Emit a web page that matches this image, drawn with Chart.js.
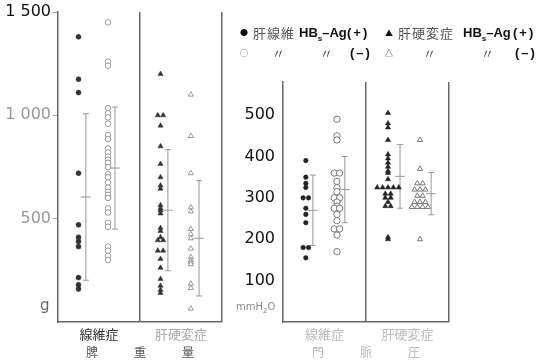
<!DOCTYPE html>
<html lang="ja">
<head>
<meta charset="utf-8">
<script src="https://cdn.jsdelivr.net/npm/chart.js@4/dist/chart.umd.min.js"></script>
<style>
  body { margin: 0; background: #fff; }
  #wrap { position: relative; width: 537px; height: 361px; overflow: hidden; font-family: "Noto Sans CJK JP", sans-serif; }
  canvas { position: absolute; top: 0; }
  .t { position: absolute; white-space: nowrap; line-height: 1; font-size: 13px; color: #555; }
  .b { font-family: "Liberation Sans", Arial, sans-serif; font-weight: bold; color: #111; }
  .b sub { font-size: 8px; }
</style>
</head>
<body>
<div id="wrap">
  <canvas id="spleen" width="230" height="361" style="left:0"></canvas>
  <canvas id="pressure" width="307" height="361" style="left:230px"></canvas>

  <span class="t" style="left:240px;top:29px;font-size:8px;color:#111">●</span>
  <span class="t" style="left:253px;top:26px;letter-spacing:1px">肝線維</span>
  <span class="t b" style="left:299px;top:26px">HB<sub>s</sub>–Ag</span>
  <span class="t b" style="left:347px;top:26px;letter-spacing:2px">(+)</span>
  <span class="t" style="left:385px;top:29px;font-size:8px;color:#111">▲</span>
  <span class="t" style="left:398px;top:26px;letter-spacing:1px">肝硬変症</span>
  <span class="t b" style="left:463px;top:26px">HB<sub>s</sub>–Ag</span>
  <span class="t b" style="left:513px;top:26px;letter-spacing:2px">(+)</span>

  <span class="t" style="left:240px;top:49px;font-size:8px;color:#333">○</span>
  <span class="t" style="left:272px;top:46px">〃</span>
  <span class="t" style="left:320px;top:46px">〃</span>
  <span class="t b" style="left:350px;top:46px;letter-spacing:2px">(–)</span>
  <span class="t" style="left:385px;top:49px;font-size:8px;color:#333">△</span>
  <span class="t" style="left:423px;top:46px">〃</span>
  <span class="t" style="left:481px;top:46px">〃</span>
  <span class="t b" style="left:515px;top:46px;letter-spacing:2px">(–)</span>

  <span class="t" style="left:40px;top:298px;font-size:15px;color:#666;font-family:'DejaVu Sans'">g</span>
  <span class="t" style="left:236px;top:302px;font-size:10px;color:#888;font-family:'DejaVu Sans'">mmH<sub style="font-size:7px">2</sub>O</span>
</div>
<script>
const groups = ['線維症', '肝硬変症'];

// 脾重量 (g)
const spleenFibPos = [1380, 1175, 1110, 720, 470, 410, 390, 365, 215, 180, 160];
const spleenFibNeg = [1450, 1260, 1240, 1035, 1010, 990, 960, 905, 885, 840, 820, 800, 785, 770, 750,
                      715, 700, 675, 650, 630, 615, 600, 550, 530, 480, 460, 365, 345, 320, 300];
const spleenCirPos = [1200, 1000, 1000, 950, 850, 765, 700, 660, 645, 565, 550, 540, 525, 455, 440,
                      410, 395, 395, 345, 345, 305, 262, 208, 175, 155, 140];
const spleenCirNeg = [1100, 900, 720, 555, 535, 450, 425, 405, 355, 315, 300, 290, 280, 185, 165, 65];
const spleenMean = [605, 745, 541, 405];
const spleenSD = [403, 295, 293, 279];
const spleenTicks = [500, 1000, 1500];

// 門脈圧 (mmH2O)
const pressFibPos = [390, 350, 335, 325, 300, 300, 275, 260, 240, 180, 180, 155];
const pressFibNeg = [490, 450, 440, 360, 360, 340, 325, 315, 300, 300, 290, 280, 275, 275, 260, 245,
                     225, 225, 210, 170];
const pressCirPos = [505, 480, 470, 440, 405, 395, 385, 375, 365, 360, 345, 325, 325, 325, 325, 325,
                     310, 310, 300, 300, 290, 280, 280, 205, 200];
const pressCirNeg = [440, 370, 335, 335, 320, 320, 320, 305, 305, 290, 290, 290, 278, 278, 278, 278, 200];
const pressMean = [270, 320, 352, 310];
const pressSD = [85, 80, 77, 51];
const pressTicks = [100, 200, 300, 400, 500];

// points with equal values sit side by side
function jitter(values, x0, step) {
  const total = {}, seen = {};
  values.forEach(v => total[v] = (total[v] || 0) + 1);
  return values.map(v => {
    seen[v] = (seen[v] || 0) + 1;
    return { x: x0 + (seen[v] - 1 - (total[v] - 1) / 2) * step, y: v };
  });
}

function sdLines(xs, means, sds) {
  const out = [];
  means.forEach((m, i) => {
    out.push({ x: xs[i], y: m - sds[i] }, { x: xs[i], y: m + sds[i] }, { x: xs[i], y: null });
  });
  return out;
}

function build(id, o) {
  const sets = o.sets;
  return new Chart(document.getElementById(id), {
    type: 'scatter',
    data: {
      datasets: [
        { data: jitter(sets[0], o.cols[0], 0.13), pointStyle: 'circle', pointRadius: o.r[0],
          backgroundColor: o.dark, borderColor: o.dark, borderWidth: 0.5 },
        { data: jitter(sets[1], o.cols[1], 0.13), pointStyle: 'circle', pointRadius: o.r[1],
          backgroundColor: '#fff', borderColor: o.light, borderWidth: 1 },
        { data: jitter(sets[2], o.cols[2], 0.13), pointStyle: 'triangle', pointRadius: o.r[2],
          backgroundColor: o.dark, borderColor: o.dark, borderWidth: 0.5 },
        { data: jitter(sets[3], o.cols[3], 0.13), pointStyle: 'triangle', pointRadius: o.r[3],
          backgroundColor: '#fff', borderColor: o.light, borderWidth: 1 },
        { type: 'line', data: sdLines(o.sdCols, o.mean, o.sd), showLine: true, spanGaps: false,
          borderColor: '#999', borderWidth: 1, pointStyle: 'line', pointRadius: 3,
          pointBorderColor: '#999', pointBorderWidth: 1 },
        { data: o.mean.map((m, i) => ({ x: o.sdCols[i], y: m })), pointStyle: 'line', pointRadius: 5,
          borderColor: '#999', borderWidth: 1 }
      ]
    },
    options: {
      responsive: false,
      animation: false,
      events: [],
      layout: { padding: { top: o.top, right: o.right, left: 0, bottom: 0 } },
      plugins: { legend: { display: false }, tooltip: { enabled: false } },
      scales: {
        x: {
          type: 'linear', min: 0, max: 4,
          afterBuildTicks: s => { s.ticks = [1, 2, 3, 4].map(v => ({ value: v })); },
          afterFit: s => { s.height = 39; },
          grid: {
            drawTicks: false, lineWidth: 1.5,
            color: c => (c.tick && c.tick.value % 2 === 0) ? '#666' : 'rgba(0,0,0,0)'
          },
          border: { color: '#666', width: 1.5 },
          ticks: {
            padding: 4, autoSkip: false, maxRotation: 0,
            font: { family: 'Noto Sans CJK JP', size: 13 },
            color: c => c.tick.value === 1 ? o.labelColors[0] : o.labelColors[1],
            callback: v => v === 1 ? groups[0] : (v === 3 ? groups[1] : '')
          },
          title: {
            display: true, text: o.title, color: o.titleColor,
            font: { family: 'Noto Sans CJK JP', size: 12 }, padding: { top: 0, bottom: 1 }
          }
        },
        y: {
          min: 0, max: o.max,
          afterBuildTicks: s => { s.ticks = o.ticks.map(v => ({ value: v })); },
          afterFit: s => { s.width = o.yWidth; },
          grid: { drawOnChartArea: false, drawTicks: o.outerTicks, tickLength: 5, color: '#aaa' },
          border: { color: '#666', width: 1.5 },
          ticks: {
            padding: o.outerTicks ? 2 : 8,
            font: { family: 'DejaVu Sans', size: 16 },
            color: o.tickColor,
            callback: v => v >= 1000 ? Math.floor(v / 1000) + ' ' + String(v % 1000).padStart(3, '0') : String(v)
          }
        }
      }
    }
  });
}

build('spleen', {
  sets: [spleenFibPos, spleenFibNeg, spleenCirPos, spleenCirNeg],
  mean: spleenMean, sd: spleenSD, ticks: spleenTicks, max: 1500,
  cols: [0.5, 1.22, 2.5, 3.24], sdCols: [0.68, 1.39, 2.68, 3.44],
  r: [2.5, 2.8, 3, 3], dark: '#333', light: '#999',
  top: 12, right: 8, yWidth: 58, outerTicks: true,
  tickColor: c => c.tick.value === 1500 ? '#111' : '#999',
  labelColors: ['#333', '#aaa'], title: '脾　　　重　　　量', titleColor: '#555'
});

build('pressure', {
  sets: [pressFibPos, pressFibNeg, pressCirPos, pressCirNeg],
  mean: pressMean, sd: pressSD, ticks: pressTicks, max: 580,
  cols: [0.55, 1.3, 2.53, 3.3], sdCols: [0.72, 1.49, 2.82, 3.57],
  r: [2.3, 3.2, 3, 3], dark: '#222', light: '#777',
  top: 82, right: 88, yWidth: 53, outerTicks: false,
  tickColor: '#111',
  labelColors: ['#bbb', '#bbb'], title: '門　　　脈　　　圧', titleColor: '#bbb'
});
</script>
</body>
</html>
